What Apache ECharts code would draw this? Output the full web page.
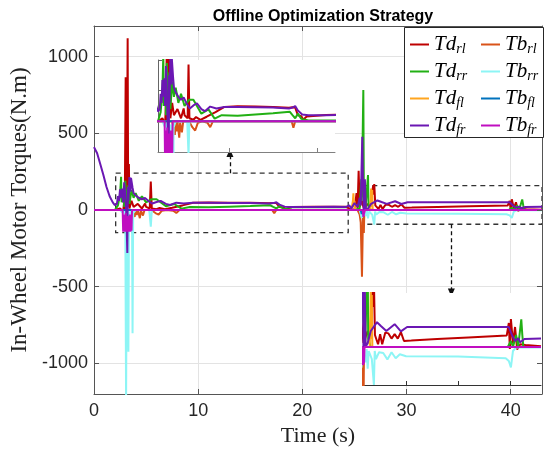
<!DOCTYPE html>
<html><head><meta charset="utf-8">
<script src="https://cdn.jsdelivr.net/npm/echarts@6/dist/echarts.min.js"></script>
<style>html,body{margin:0;padding:0;background:#fff}#c{width:546px;height:450px}</style>
</head><body><div id="c"></div>
<script>
// ---- data (time s, torque N.m) ----
const yTicks = [-1000, -500, 0, 500, 1000];
const xTicks = [0, 10, 20, 30, 40];
const tdRl = [[0,0],[2.0,0],[2.5,10],[2.8,-10],[2.9,60],[2.95,0],[3.0,0],[3.04,866],[3.1,0],[3.15,40],[3.23,1120],[3.28,20],[3.35,300],[3.4,10],[3.6,60],[3.8,20],[4.2,40],[4.6,10],[4.9,42],[5.0,20],[5.35,10],[5.45,185],[5.55,10],[6.0,5],[6.3,14],[6.8,5],[7.5,15],[8.5,30],[9.5,47],[11,49],[13,48],[15,47],[16.8,44],[17.2,46],[17.5,45],[17.8,20],[18.2,17],[18.4,5],[18.8,16],[19.0,19],[21,21],[23,22],[24.2,21],[24.6,5],[25.0,0],[25.2,110],[25.3,10],[25.4,256],[25.5,20],[25.7,60],[25.9,10],[26.3,40],[26.5,20],[26.8,160],[26.85,100],[26.9,170],[27.0,30],[27.3,7],[27.5,32],[27.7,7],[28.0,36],[28.3,34],[28.6,21],[28.9,32],[29.2,21],[29.5,37],[29.8,15],[30.5,16],[33,20],[36,24],[39.7,29],[39.9,60],[40.0,-5],[40.1,70],[40.3,10],[40.5,50],[40.7,-6],[41.0,7],[41.5,5],[43,2]];
const tbRl = [[0,0],[3.6,0],[3.9,-44],[4.0,0],[4.1,-33],[4.2,0],[4.4,-53],[4.5,-5],[4.7,-36],[4.85,0],[5.5,0],[5.9,-20],[6.2,-30],[6.5,-5],[7.0,0],[7.6,-5],[7.9,-19],[8.2,0],[17.1,0],[17.3,-21],[17.5,0],[25.3,0],[25.5,-30],[25.6,-80],[25.72,-435],[25.82,-20],[25.9,-150],[25.95,0],[43,0]];
const tdRr = [[0,0],[2.0,0],[2.3,30],[2.5,100],[2.6,217],[2.65,50],[2.8,120],[2.9,20],[3.0,190],[3.1,60],[3.3,160],[3.4,40],[3.6,130],[3.8,80],[4.0,110],[4.3,60],[4.6,90],[5.0,50],[5.5,70],[6.0,70],[6.9,25],[7.7,39],[8.4,9],[9.2,20],[11,18],[13,22],[15,26],[16.9,31],[17.2,20],[17.5,10],[17.8,25],[18.2,8],[19,3],[24,2],[25.0,0],[25.5,10],[25.65,200],[25.7,60],[25.85,783],[25.9,100],[25.95,30],[26.05,0],[26.3,228],[26.35,20],[26.6,0],[29,0],[39.8,0],[40.1,15],[40.3,0],[40.6,30],[40.8,0],[41.1,69],[41.2,30],[41.3,0],[43,0]];
const tbRr = [[0,0],[2.5,0],[2.8,-20],[3.0,0],[3.08,-1250],[3.15,-50],[3.25,-60],[3.3,-924],[3.36,-30],[3.5,-10],[3.65,-40],[3.7,-803],[3.76,-20],[4.0,0],[5.3,0],[5.45,-109],[5.55,0],[25.5,0],[25.7,-52],[25.8,0],[26.1,-38],[26.2,-5],[26.3,-54],[26.4,-10],[26.7,-30],[26.9,-95],[26.98,-10],[27.1,-30],[27.4,-13],[27.8,-15],[28.2,-31],[28.6,-13],[29.0,-28],[29.4,-18],[30.0,-23],[35,-24],[39.6,-28],[39.9,-35],[40.1,-51],[40.3,-10],[40.6,-1],[43,-1]];
const tdFl = [[0,0],[24.7,0],[24.85,60],[24.9,109],[24.95,20],[25.0,60],[25.05,0],[26.5,0],[26.6,140],[26.65,20],[26.7,130],[26.75,0],[43,0]];
const tbFl = [[0,0],[25.6,0],[25.7,-26],[25.8,0],[43,0]];
const tdFr = [[0,410],[0.3,370],[0.6,300],[0.9,228],[1.2,150],[1.5,90],[1.8,50],[2.0,32],[2.2,40],[2.3,90],[2.4,60],[2.5,135],[2.6,80],[2.7,140],[2.8,50],[2.9,180],[3.0,100],[3.1,-20],[3.2,-280],[3.25,150],[3.3,60],[3.4,215],[3.5,120],[3.55,210],[3.7,145],[3.8,110],[4.0,95],[4.3,80],[4.6,70],[4.9,78],[5.2,60],[5.6,42],[6.0,52],[6.4,59],[6.9,40],[7.3,33],[7.9,48],[8.6,42],[9.5,47],[11,47],[13,46],[15,45],[16.8,42],[17.2,45],[17.5,50],[17.8,35],[18.3,22],[19,20],[21,20],[23,21],[24.2,20],[24.5,30],[24.7,10],[25.0,45],[25.3,20],[25.5,80],[25.6,30],[25.75,478],[25.8,240],[25.9,-20],[26.0,200],[26.1,0],[26.3,10],[26.6,40],[27.2,62],[27.6,52],[28.1,40],[28.9,57],[29.5,39],[30.1,50],[35,50],[39.9,50],[40.2,30],[40.5,15],[40.8,22],[41.0,12],[41.4,20],[43,21]];
const tbFr = [[0,0],[2.75,0],[2.8,-141],[2.85,-30],[2.9,-141],[2.95,-60],[3.0,-141],[3.05,-20],[3.1,-141],[3.15,-50],[3.2,-141],[3.25,-40],[3.3,-141],[3.35,-50],[3.4,-141],[3.45,-30],[3.5,-141],[3.55,-60],[3.6,-135],[3.65,0],[25.8,0],[25.85,-45],[25.95,-38],[26.0,0],[43,0]];

const names = ['Td_rl','Tb_rl','Td_rr','Tb_rr','Td_fl','Tb_fl','Td_fr','Tb_fr'];
const datasets = [tdRl, tbRl, tdRr, tbRr, tdFl, tbFl, tdFr, tbFr];
const colors = ['#BE0000','#D95319','#22B014','#8DF5F5','#FFA51F','#0072BD','#6B17B3','#C00EC0'];

// zoom annotations (data space of main axes)
const box1X = [2.08, 24.4], box1Y = [-148, 240];
const box2X = [25.85, 43], box2Y = [-93, 159];
const inset1X = [2, 22], inset1Y = [-100, 200];
const inset2X = [25.85, 43], inset2Y = [-95, 135];
const arrow1 = [[13.05, 240], [13.05, 372]];
const arrow2 = [[34.3, -93], [34.3, -538]];

const chart = echarts.init(document.getElementById('c'), null, {renderer:'canvas'});
const axisCol = '#262626';
const series = [];
[[0,0,2],[2,2,12],[3,3,12]].forEach(([xi, yi, z]) => {
  names.forEach((n, i) => {
    series.push({
      name: n, type: 'line', xAxisIndex: xi, yAxisIndex: yi, z: z,
      data: datasets[i], showSymbol: false, symbol: 'none', clip: true,
      lineStyle: {color: colors[i], width: 2}, itemStyle: {color: colors[i]},
      emphasis: {disabled: true}
    });
  });
});
series.push({
  type: 'line', xAxisIndex: 0, yAxisIndex: 0, data: [], z: 5, silent: true,
  markArea: {silent: true, itemStyle: {color: 'rgba(0,0,0,0)', borderColor: '#333', borderWidth: 1.3, borderType: [5,4]},
    data: [[{coord: [box1X[0], box1Y[1]]}, {coord: [box1X[1], box1Y[0]]}],
           [{coord: [box2X[0], box2Y[1]]}, {coord: [box2X[1], box2Y[0]]}]]},
  markLine: {silent: true, symbol: ['none', 'triangle'], symbolSize: [7, 8], label: {show: false},
    lineStyle: {color: '#111', width: 1.3, type: [4,3]},
    data: [[{coord: arrow1[0]}, {coord: arrow1[1]}], [{coord: arrow2[0]}, {coord: arrow2[1]}]]}
});

const sub = n => '{m|' + n.slice(0,2) + '}{s|' + n.slice(3) + '}';
const legendBase = {
  orient: 'vertical', itemWidth: 19, itemHeight: 2, icon: 'rect', itemGap: 4, z: 60,
  selectedMode: false, formatter: sub,
  textStyle: {rich: {
    m: {fontFamily: 'Liberation Serif', fontStyle: 'italic', fontSize: 21, color: '#000', lineHeight: 22},
    s: {fontFamily: 'Liberation Serif', fontStyle: 'italic', fontSize: 14, color: '#000', padding: [9,0,0,0], lineHeight: 22}
  }}
};
const plain = v => String(v);
const tickLabel = {fontFamily: 'Liberation Sans', fontSize: 18, color: axisCol, formatter: plain};
const nameStyle = {fontFamily: 'Liberation Serif', fontSize: 22, color: '#222'};

chart.setOption({
  animation: false,
  backgroundColor: '#fff',
  title: {text: 'Offline Optimization Strategy', left: 318, top: 4, textAlign: 'center',
    textStyle: {fontFamily: 'Liberation Sans', fontWeight: 'bold', fontSize: 16, color: '#000'}},
  graphic: [{type: 'rect', left: 404, top: 27, z: 50, shape: {width: 139, height: 110},
    style: {fill: '#fff', stroke: axisCol, lineWidth: 1}}],
  legend: [
    Object.assign({}, legendBase, {left: 405, top: 28, data: ['Td_rl','Td_rr','Td_fl','Td_fr']}),
    Object.assign({}, legendBase, {left: 476, top: 28, data: ['Tb_rl','Tb_rr','Tb_fl','Tb_fr']})
  ],
  grid: [
    {left: 94, right: 4, top: 26, bottom: 56, containLabel: false, outerBoundsMode: 'none'},
    {left: 158, top: 60, width: 177, height: 92, show: true, backgroundColor: '#fff', borderWidth: 0, z: 10, outerBoundsMode: 'none'},
    {left: 363, top: 293, width: 178, height: 92, show: true, backgroundColor: '#fff', borderWidth: 0, z: 10, outerBoundsMode: 'none'}
  ],
  xAxis: [
    {gridIndex: 0, type: 'value', min: 0, max: 43, interval: 10,
      name: 'Time (s)', nameLocation: 'middle', nameGap: 30, nameTextStyle: nameStyle,
      axisLine: {show: true, onZero: false, lineStyle: {color: '#555'}},
      axisTick: {inside: true, length: 5, lineStyle: {color: '#555'}},
      axisLabel: Object.assign({margin: 8, showMaxLabel: false}, tickLabel),
      splitLine: {show: true, lineStyle: {color: '#e3e3e3'}}},
    {gridIndex: 0, type: 'value', position: 'top', min: 0, max: 43, interval: 10, z: 20,
      axisLine: {show: true, onZero: false, lineStyle: {color: '#555'}},
      axisTick: {inside: true, length: 5, lineStyle: {color: '#555'}},
      axisLabel: {show: false}, splitLine: {show: false}},
    {gridIndex: 1, type: 'value', min: inset1X[0], max: inset1X[1], z: 11,
      axisLine: {show: true, onZero: false, lineStyle: {color: '#808080'}},
      axisTick: {inside: true, length: 4, customValues: [10, 20], lineStyle: {color: '#808080'}},
      axisLabel: {show: false, customValues: [10, 20]}, splitLine: {show: false}},
    {gridIndex: 2, type: 'value', min: inset2X[0], max: inset2X[1], z: 11,
      axisLine: {show: true, onZero: false, lineStyle: {color: '#333'}},
      axisTick: {inside: true, length: 4, customValues: [30, 35, 40], lineStyle: {color: '#333'}},
      axisLabel: {show: false, customValues: [30, 35, 40]}, splitLine: {show: false}}
  ],
  yAxis: [
    {gridIndex: 0, type: 'value', min: -1200, max: 1200,
      name: 'In-Wheel Motor Torques(N.m)', nameLocation: 'middle', nameGap: 56,
      nameTextStyle: {fontFamily: 'Liberation Serif', fontSize: 23, color: '#222'},
      axisLine: {show: true, onZero: false, lineStyle: {color: '#555'}},
      axisTick: {inside: true, length: 5, customValues: yTicks, lineStyle: {color: '#555'}},
      axisLabel: Object.assign({margin: 6, customValues: yTicks}, tickLabel),
      splitLine: {show: true, lineStyle: {color: '#e3e3e3'}}},
    {gridIndex: 0, type: 'value', position: 'right', min: -1200, max: 1200, z: 20,
      axisLine: {show: true, onZero: false, lineStyle: {color: '#555'}},
      axisTick: {inside: true, length: 5, customValues: yTicks, lineStyle: {color: '#555'}},
      axisLabel: {show: false, customValues: yTicks}, splitLine: {show: false}},
    {gridIndex: 1, type: 'value', min: inset1Y[0], max: inset1Y[1], z: 11,
      axisLine: {show: true, onZero: false, lineStyle: {color: '#666'}},
      axisTick: {inside: true, length: 4, customValues: [0, 100, 200], lineStyle: {color: '#666'}},
      axisLabel: {show: false, customValues: [0, 100, 200]}, splitLine: {show: false}},
    {gridIndex: 2, type: 'value', min: inset2Y[0], max: inset2Y[1], z: 11,
      axisLine: {show: true, onZero: false, lineStyle: {color: '#333'}},
      axisTick: {show: false}, axisLabel: {show: false}, splitLine: {show: false}}
  ],
  series: series
});
</script></body></html>
